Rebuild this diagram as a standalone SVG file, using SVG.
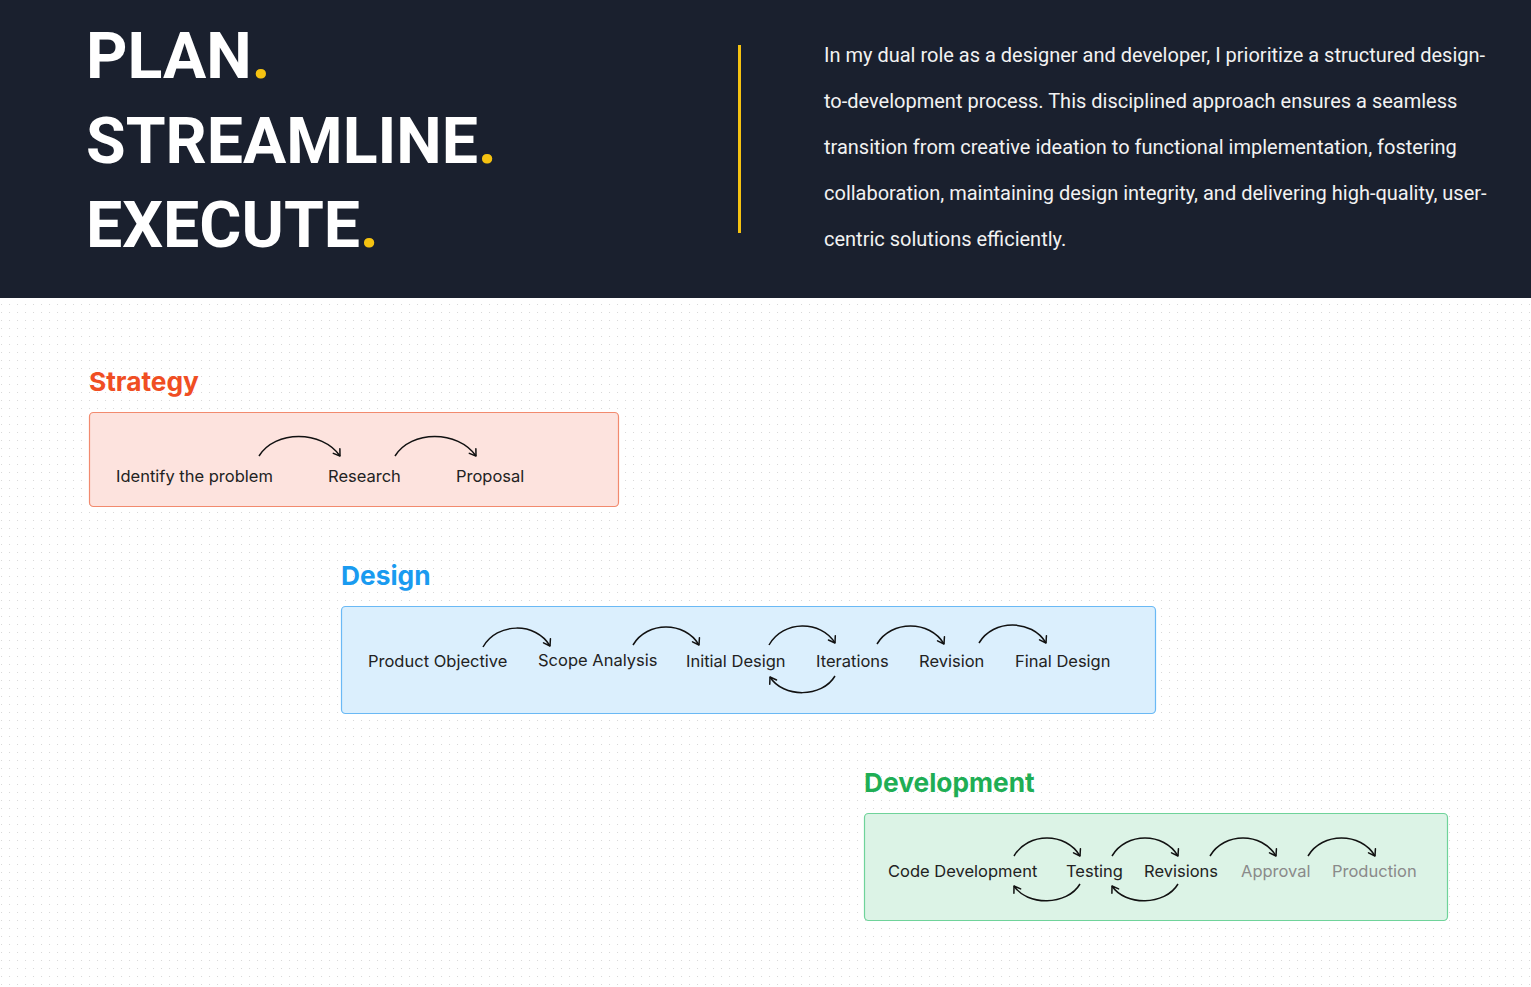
<svg xmlns="http://www.w3.org/2000/svg" width="1531" height="987" viewBox="0 0 1531 987">
  <defs>
    <pattern id="dots" x="1" y="0" width="8" height="8" patternUnits="userSpaceOnUse">
      <circle cx="0.5" cy="0.5" r="0.6" fill="#d9d9d9"/>
    </pattern>
    <marker id="arrow" markerUnits="userSpaceOnUse" markerWidth="12" markerHeight="12" refX="0" refY="0" viewBox="-8 -6 10 12" orient="auto">
      <path d="M-6,-4 L0,0 L-6,4" fill="none" stroke="#111" stroke-width="1.5" stroke-linecap="round" stroke-linejoin="round"/>
    </marker>
    <style>
      .title { font-family: Roboto, "Liberation Sans", sans-serif; font-weight: 700; font-size: 64.4px; fill: #ffffff; }
      .dot { fill: #f5c211; }
      .para { font-family: Roboto, "Liberation Sans", sans-serif; font-size: 20px; fill: #f2f2f2; }
      .head { font-family: Inter, "Liberation Sans", sans-serif; font-weight: 700; font-size: 26.3px; }
      .lbl { font-family: Inter, "Liberation Sans", sans-serif; font-size: 16.5px; fill: #222222; }
      .muted { fill: #8a8a8a; }
      .flow { fill: none; stroke: #111; stroke-width: 1.5; marker-end: url(#arrow); }
    </style>
  </defs>

  <!-- page background with dot grid -->
  <rect x="0" y="0" width="1531" height="987" fill="#ffffff"/>
  <rect x="0" y="298" width="1531" height="689" fill="url(#dots)"/>

  <!-- header band -->
  <g id="header">
    <rect x="0" y="0" width="1531" height="298" fill="#1a202e"/>
    <text class="title" x="86" y="78">PLAN<tspan class="dot">.</tspan></text>
    <text class="title" x="86" y="163">STREAMLINE<tspan class="dot">.</tspan></text>
    <text class="title" x="86" y="247">EXECUTE<tspan class="dot">.</tspan></text>
    <rect x="738" y="45" width="3" height="188" fill="#f5c211"/>
    <text class="para" x="824" y="62">In my dual role as a designer and developer, I prioritize a structured design-</text>
    <text class="para" x="824" y="108">to-development process. This disciplined approach ensures a seamless</text>
    <text class="para" x="824" y="154">transition from creative ideation to functional implementation, fostering</text>
    <text class="para" x="824" y="200">collaboration, maintaining design integrity, and delivering high-quality, user-</text>
    <text class="para" x="824" y="246">centric solutions efficiently.</text>
  </g>

  <!-- Strategy stage -->
  <g id="strategy">
    <text class="head" x="89" y="391" fill="#f04e23">Strategy</text>
    <rect x="89.5" y="412.5" width="529" height="94" rx="4" fill="#fde3de" stroke="#f28a6e" stroke-width="1.2"/>
    <text class="lbl" x="116" y="482">Identify the problem</text>
    <text class="lbl" x="328" y="482">Research</text>
    <text class="lbl" x="456" y="482">Proposal</text>
  </g>

  <!-- Design stage -->
  <g id="design">
    <text class="head" x="341" y="585" fill="#1a9bf0">Design</text>
    <rect x="341.5" y="606.5" width="814" height="107" rx="4" fill="#dbeffd" stroke="#6ab9f5" stroke-width="1.2"/>
    <text class="lbl" x="368" y="667">Product Objective</text>
    <text class="lbl" x="538" y="666">Scope Analysis</text>
    <text class="lbl" x="686" y="667">Initial Design</text>
    <text class="lbl" x="816" y="667">Iterations</text>
    <text class="lbl" x="919" y="667">Revision</text>
    <text class="lbl" x="1015" y="667">Final Design</text>
  </g>

  <!-- Development stage -->
  <g id="development">
    <text class="head" x="864" y="792" fill="#1fae55">Development</text>
    <rect x="864.5" y="813.5" width="583" height="107" rx="4" fill="#dcf3e6" stroke="#6fd39a" stroke-width="1.2"/>
    <text class="lbl" x="888" y="877">Code Development</text>
    <text class="lbl" x="1066" y="877">Testing</text>
    <text class="lbl" x="1144" y="877">Revisions</text>
    <text class="lbl muted" x="1241" y="877">Approval</text>
    <text class="lbl muted" x="1332" y="877">Production</text>
  </g>

  <!-- flow arrows between steps -->
  <g id="connectors">
    <path class="flow" d="M259,456 C275,430 322,430 340,456"/>
    <path class="flow" d="M395,456 C411,430 458,430 476,456"/>

    <path class="flow" d="M483,647 C497,622 536,622 550,646"/>
    <path class="flow" d="M633,645 C647,621 685,621 699,645"/>
    <path class="flow" d="M769,645 C783,620 821,620 835,643"/>
    <path class="flow" d="M877,644 C891,620 930,620 944,644"/>
    <path class="flow" d="M979,643 C993,619 1032,619 1046,643"/>
    <path class="flow" d="M835,676 C822,698 783,698 770,677"/>

    <path class="flow" d="M1014,856 C1028,832 1066,832 1080,856"/>
    <path class="flow" d="M1112,856 C1126,832 1164,832 1178,856"/>
    <path class="flow" d="M1210,856 C1224,832 1262,832 1276,856"/>
    <path class="flow" d="M1308,856 C1322,832 1361,832 1375,856"/>
    <path class="flow" d="M1080,884 C1067,906 1027,906 1014,886"/>
    <path class="flow" d="M1178,884 C1165,906 1125,906 1112,886"/>
  </g>
</svg>
